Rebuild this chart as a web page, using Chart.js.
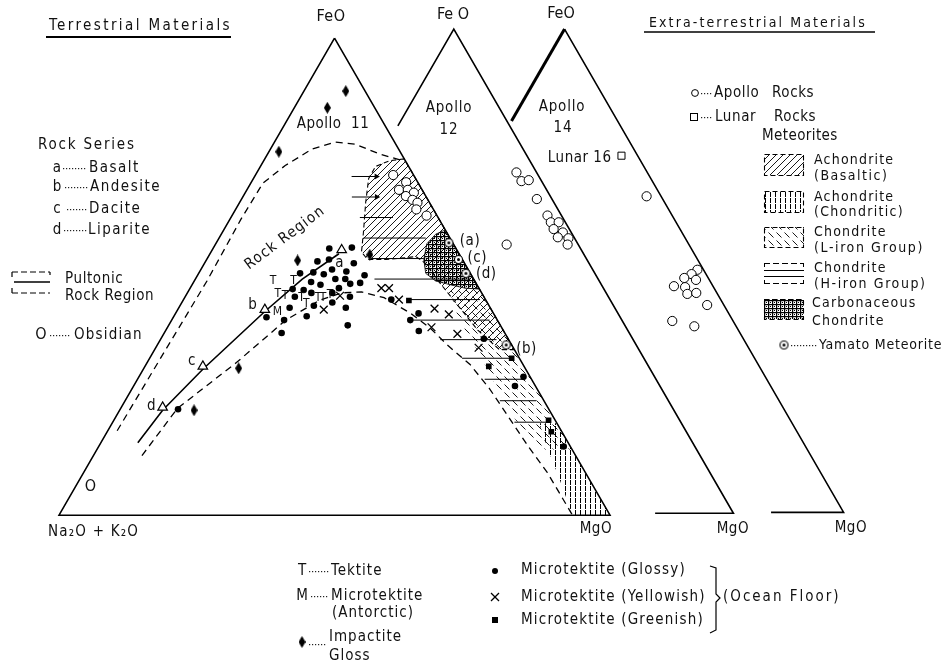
<!DOCTYPE html>
<html>
<head>
<meta charset="utf-8">
<title>FeO - MgO - (Na2O+K2O) diagram</title>
<script src="https://cdn.jsdelivr.net/npm/chart.js@4.4.1/dist/chart.umd.min.js"></script>
<style>
html,body{margin:0;padding:0;background:#fff;overflow:hidden;}
#box{position:relative;width:947px;height:666px;}
canvas{display:block;}
</style>
</head>
<body>
<div id="box"><canvas id="chart" width="947" height="666"></canvas></div>
<script>
// ================= DATA : every pair is [FeO %, MgO %]  (Na2O+K2O = remainder) =================
const apollo11Rocks = [[71.3,25.0],[69.8,28.1],[68.2,27.6],[68.2,29.2],[67.6,30.6],[66.9,29.5],[66.1,31.1],[65.5,32.3],[64.1,32.8],[62.8,35.3]];
const apollo12Rocks = [[70.4,26.0],[68.6,27.8],[68.8,29.0],[64.9,32.4],[61.5,36.0],[60.1,37.3],[60.1,38.7],[58.7,38.5],[58.0,40.5],[56.8,42.1],[57.0,40.1],[55.5,42.6],[55.5,31.7]];
const apollo14Rocks = [[65.4,32.0],[50.2,48.7],[49.3,48.1],[48.5,47.2],[48.1,49.5],[46.8,46.2],[46.6,48.3],[45.2,49.4],[45.4,50.9],[42.9,54.1],[39.6,49.5],[38.5,54.0]];
const lunarRocks = [[73.8,23.3]];
const lunarRockNames = ['Lunar 16'];
const rockSeries = [[55.6,23.5],[43.1,15.8],[31.2,10.5],[22.6,7.5]];
const rockSeriesLabels = ['a','b','c','d'];
const obsidian = [[6.0,2.7]];
const impactiteGlass = [[88.9,7.6],[85.4,6.0],[76.2,1.8],[53.4,16.6],[54.6,29.1],[30.8,17.2],[22.0,13.5]];
const tektites = [[49.1,14.3],[49.1,18.0],[46.4,16.5],[46.0,18.0],[45.6,21.2],[44.4,22.7],[45.6,24.2],[45.6,25.1],[46.2,26.1]];
const antarcticMicrotektites = [[42.7,18.3]];
const glossyMicrotektites = [[55.9,21.1],[56.1,25.1],[53.2,20.3],[53.6,22.2],[52.8,27.1],[50.7,18.4],[50.9,20.7],[50.5,22.8],[51.5,23.8],[51.1,26.6],[50.3,30.3],[48.9,21.3],[48.3,23.3],[49.5,25.4],[49.5,27.2],[48.5,28.6],[48.7,30.3],[47.4,18.7],[47.2,20.8],[46.6,22.5],[47.6,27.0],[46.6,26.3],[45.8,29.9],[45.8,19.9],[43.9,24.3],[44.6,27.3],[43.5,20.1],[41.7,24.1],[43.5,30.3],[41.5,16.9],[40.9,20.4],[38.2,21.3],[39.8,32.5],[45.2,37.7],[40.9,43.3],[42.3,44.1],[38.6,46.0],[37.0,58.6],[29.0,69.8],[27.1,69.2],[14.4,84.4],[22.2,10.5]];
const yellowishMicrotektites = [[47.6,34.7],[47.6,36.1],[45.2,39.1],[43.1,26.5],[46.0,28.0],[43.3,46.5],[42.1,49.7],[39.4,47.9],[38.0,53.3],[35.1,58.6]];
const greenishMicrotektites = [[45.0,41.0],[31.2,62.4],[32.9,65.7],[19.9,78.9],[17.5,80.6]];
const yamatoMeteorites = [[57.1,42.2],[53.6,45.7],[50.7,48.5],[35.7,63.3]];
const yamatoLabels = ['(a)','(c)','(d)','(b)'];

// region outlines, same [FeO, MgO] composition pairs
const pultonicOuter = [[17.7,1.7],[34.3,2.0],[49.1,2.3],[62.0,2.0],[69.6,2.2],[73.3,4.4],[76.8,7.6],[78.2,11.0],[77.8,14.8],[75.8,20.1],[74.1,25.9]];
const pultonicInner = [[12.5,8.8],[22.4,10.3],[32.0,16.2],[40.9,20.7],[45.0,24.7],[46.6,28.0],[46.8,31.5],[45.6,36.2],[42.3,42.7],[39.2,47.8],[35.7,52.6],[31.6,58.8],[26.5,64.9],[20.3,71.6],[14.2,78.2],[9.0,84.1],[0,93.2]];
const rockSeriesTrend = [[15.2,6.7],[22.0,7.8],[30.6,10.8],[42.7,16.0],[49.5,19.4],[54.8,23.4]];
const achondriteBasaltic = [[74.7,25.3],[74.3,22.8],[73.1,20.9],[70.6,20.9],[65.5,22.9],[59.3,25.6],[55.2,27.3],[53.6,29.2],[53.6,32.6],[54.2,37.7],[52.8,40.1],[48.5,45.0],[43.9,50.5],[38.8,56.6],[34.7,62.6],[34.7,65.3],[74.7,25.3]];
const carbonaceousChondrite = [[59.8,40.2],[58.9,38.9],[56.9,38.3],[53.6,39.4],[50.7,41.2],[49.1,43.8],[48.3,46.9],[47.6,49.9],[47.4,52.6],[59.8,40.2]];
const chondriteLiron = [[47.4,52.6],[47.0,47.5],[42.9,50.5],[38.8,54.3],[34.3,58.9],[29.6,63.4],[25.5,67.2],[21.4,71.4],[17.2,75.8],[13.8,80.2],[13.8,86.2],[47.4,52.6]];
const achondriteChondritic = [[19.3,80.7],[19.3,77.5],[14.2,81.5],[8.0,86.7],[0,93.2],[0,100],[19.3,80.7]];
// H-iron chondrite hatch lines: [FeO, MgO start, MgO end]
const chondriteHiron = [[71.0,17.6,22.1],[66.7,19.8,24.3],[62.4,23.4,29.4],[58.1,26.2,37.5],[53.8,29.8,39.3],[49.5,32.5,49.9],[45.2,40.9,53.8],[40.9,43.4,57.7],[36.8,50.8,61.0],[32.9,56.7,65.8],[28.5,63.0,70.2],[24.0,68.0,74.6],[19.5,72.9,78.8]];

// triangle frames: corners FeO=[100,0], MgO=[0,100], Na2O+K2O=[0,0]
const mainTriangle = [[100,0],[0,100],[0,0],[100,0]];
const apollo12Frame = [[80,0],[100,0],[0,100],[0,86]];
const apollo14Stub = [[100,0],[81,0]];
const apollo14Frame = [[100,0],[0,100],[0,87]];

// ================= LAYOUT =================
const FONT = '"Liberation Sans Narrow","DejaVu Sans Condensed","Open Sans",sans-serif';
const MAIN = {ox:0, oy:0, s:1}, A12 = {ox:20.9, oy:0.4, s:1.015}, A14 = {ox:41.1, oy:0.6, s:1.013};
const conv = (arr, fr = MAIN) => arr.map(p => ({x: fr.ox + fr.s * (p[1] + p[0] / 2), y: fr.oy + fr.s * p[0]}));

const cv = document.getElementById('chart');
const cctx = cv.getContext('2d');
function pattern(w, h, draw) {
  const c = document.createElement('canvas'); c.width = w; c.height = h;
  const g = c.getContext('2d'); g.strokeStyle = '#000'; g.fillStyle = '#000';
  draw(g, w, h); return cctx.createPattern(c, 'repeat');
}
const patBas = pattern(7, 7, (g, w, h) => { g.lineWidth = 0.9; g.beginPath(); g.moveTo(-1, h + 1); g.lineTo(w + 1, -1); g.moveTo(-1, 1); g.lineTo(1, -1); g.moveTo(w - 1, h + 1); g.lineTo(w + 1, h - 1); g.stroke(); });
const patL = pattern(8, 8, (g) => { g.lineWidth = 0.9; g.beginPath(); g.moveTo(0.5, 0.5); g.lineTo(5.5, 5.5); g.stroke(); });
const patV = pattern(5, 6, (g) => { g.fillRect(0, 0, 1, 5); });
const patC = pattern(4, 4, (g) => { g.fillRect(0, 0, 4, 1.2); g.fillRect(0, 0, 1.2, 4); g.fillRect(2, 2, 1, 1); });

function img(w, h, draw) { const c = document.createElement('canvas'); c.width = w; c.height = h; const g = c.getContext('2d'); draw(g); return c; }
const diamondImg = img(7, 12, g => { g.fillStyle = '#000'; g.beginPath(); g.moveTo(3.5, 0); g.lineTo(7, 6); g.lineTo(3.5, 12); g.lineTo(0, 6); g.closePath(); g.fill(); });
const yamatoImg = img(11, 11, g => { g.fillStyle = '#fff'; g.strokeStyle = '#000'; g.lineWidth = 1.1; g.beginPath(); g.arc(5.5, 5.5, 4, 0, 7); g.fill(); g.stroke(); g.fillStyle = '#000'; g.beginPath(); g.arc(5.5, 5.5, 1.5, 0, 7); g.fill(); });

const lineDS = (data, o) => Object.assign({type: 'line', data, borderColor: '#000', borderWidth: 1, pointRadius: 0, fill: false, tension: 0}, o);
const ptDS = (data, o) => Object.assign({type: 'scatter', data, pointBorderColor: '#000', pointBackgroundColor: '#000', pointBorderWidth: 1, pointRadius: 3}, o);

const datasets = [
  lineDS(conv(achondriteBasaltic), {fill: 'shape', backgroundColor: patBas, borderWidth: 1.1, borderDash: [5, 3], order: 30}),
  lineDS(conv(chondriteLiron), {fill: 'shape', backgroundColor: patL, borderWidth: 0, order: 29}),
  lineDS(conv(carbonaceousChondrite), {fill: 'shape', backgroundColor: patC, borderWidth: 0.8, order: 28}),
  lineDS(conv(achondriteChondritic), {fill: 'shape', backgroundColor: patV, borderWidth: 0, order: 27}),
  ...chondriteHiron.map(([f, m1, m2]) => lineDS(conv([[f, m1], [f, m2]]), {order: 26})),
  ptDS(conv(chondriteHiron.slice(0, 2).map(([f, , m2]) => [f, m2])), {pointStyle: 'triangle', pointRotation: 90, pointRadius: 3.5, pointBorderWidth: 0, order: 25}),
  lineDS(conv(mainTriangle), {borderWidth: 1.6, order: 10}),
  lineDS(conv(apollo12Frame, A12), {borderWidth: 1.6, order: 10}),
  lineDS(conv(apollo14Frame, A14), {borderWidth: 1.6, order: 10}),
  lineDS(conv(apollo14Stub, A14), {borderWidth: 3, order: 10}),
  lineDS(conv(pultonicOuter), {borderWidth: 1.3, borderDash: [7, 5], order: 9}),
  lineDS(conv(pultonicInner), {borderWidth: 1.3, borderDash: [7, 5], order: 9}),
  lineDS(conv(rockSeriesTrend), {borderWidth: 1.6, order: 9}),
  ptDS(conv(apollo11Rocks), {pointRadius: 4.6, pointBackgroundColor: '#fff', order: 3}),
  ptDS(conv(apollo12Rocks, A12), {pointRadius: 4.6, pointBackgroundColor: '#fff', order: 3}),
  ptDS(conv(apollo14Rocks, A14), {pointRadius: 4.6, pointBackgroundColor: '#fff', order: 3}),
  ptDS(conv(lunarRocks, A14), {pointStyle: 'rect', pointRadius: 5, pointBackgroundColor: '#fff', order: 3, labels: lunarRockNames, labelAlign: 'right', labelOffsets: [[-10, 2]]}),
  ptDS(conv(rockSeries), {pointStyle: 'triangle', pointRadius: 5.5, pointBackgroundColor: '#fff', pointBorderWidth: 1.2, order: 2, labels: rockSeriesLabels, labelAlign: 'center', labelOffsets: [[-2, 13], [-12, -4], [-11, -5], [-11, -1]]}),
  ptDS(conv(impactiteGlass), {pointStyle: diamondImg, order: 2}),
  ptDS(conv(glossyMicrotektites), {pointRadius: 3.3, pointBorderWidth: 0, order: 2}),
  ptDS(conv(yellowishMicrotektites), {pointStyle: 'crossRot', pointRadius: 5.5, pointBorderWidth: 1.3, order: 2}),
  ptDS(conv(greenishMicrotektites), {pointStyle: 'rect', pointRadius: 4, pointBorderWidth: 0, order: 2}),
  ptDS(conv(yamatoMeteorites), {pointStyle: yamatoImg, order: 1, labels: yamatoLabels, labelAlign: 'left', labelOffsets: [[11, -2], [9, -1], [10, 1], [10, 4]]}),
  ptDS(conv(tektites), {pointRadius: 0, glyph: 'T', glyphSize: 12, order: 2}),
  ptDS(conv(antarcticMicrotektites), {pointRadius: 0, glyph: 'M', glyphSize: 12, order: 2}),
  ptDS(conv(obsidian), {pointRadius: 0, glyph: 'O', glyphSize: 16, order: 2})
];

function txt(ctx, s, x, y, size, align = 'left', ls = 0, rot = 0) {
  ctx.save();
  ctx.font = size + 'px ' + FONT; ctx.textAlign = align; ctx.textBaseline = 'middle'; ctx.fillStyle = '#111';
  if ('letterSpacing' in ctx) ctx.letterSpacing = ls + 'px';
  if (rot) { ctx.translate(x, y); ctx.rotate(rot); ctx.fillText(s, 0, 0); } else ctx.fillText(s, x, y);
  ctx.restore();
}
function dots(ctx, x1, x2, y) { ctx.fillStyle = '#222'; for (let x = x1; x <= x2; x += 3) ctx.fillRect(x, y, 1.2, 1.2); }
function seg(ctx, x1, y1, x2, y2, w = 1, dash = []) { ctx.save(); ctx.lineWidth = w; ctx.setLineDash(dash); ctx.strokeStyle = '#000'; ctx.beginPath(); ctx.moveTo(x1, y1); ctx.lineTo(x2, y2); ctx.stroke(); ctx.restore(); }

const pointText = {
  id: 'pointText',
  afterDatasetsDraw(chart) {
    const ctx = chart.ctx;
    chart.data.datasets.forEach((ds, i) => {
      const meta = chart.getDatasetMeta(i);
      if (ds.glyph) meta.data.forEach(el => txt(ctx, ds.glyph, el.x, el.y, ds.glyphSize, 'center'));
      if (ds.labels) meta.data.forEach((el, j) => txt(ctx, ds.labels[j], el.x + ds.labelOffsets[j][0], el.y + ds.labelOffsets[j][1], 15, ds.labelAlign, 0.5));
    });
  }
};

const texts = [
  ['Terrestrial Materials', 49, 26, 15, 'left', 2.4],
  ['FeO', 331, 17, 16, 'center', 0.5], ['Fe O', 453, 15, 16, 'center', 0], ['FeO', 561, 14, 16, 'center', 0],
  ['Extra-terrestrial Materials', 649, 23, 14, 'left', 2.1],
  ['Apollo  11', 333, 124, 15, 'center', 0.5],
  ['Apollo', 449, 108, 15, 'center', 0.8], ['12', 449, 130, 15, 'center', 0.8],
  ['Apollo', 562, 107, 15, 'center', 0.8], ['14', 563, 128, 15, 'center', 0.8],
  ['Rock Series', 38, 145, 15, 'left', 1.8],
  ['a', 57, 168, 15, 'center'], ['Basalt', 89, 168, 15, 'left', 1.5],
  ['b', 57, 187, 15, 'center'], ['Andesite', 90, 187, 15, 'left', 1.5],
  ['c', 57, 209, 15, 'center'], ['Dacite', 89, 209, 15, 'left', 1.5],
  ['d', 57, 230, 15, 'center'], ['Liparite', 88, 230, 15, 'left', 1.5],
  ['Pultonic', 65, 279, 15, 'left', 0.6], ['Rock Region', 65, 296, 15, 'left', 0.6],
  ['O', 41, 335, 16, 'center'], ['Obsidian', 74, 335, 15, 'left', 1.2],
  ['Rock Region', 285, 238, 15, 'center', 1.2, -0.64],
  ['Na\u2082O + K\u2082O', 48, 532, 15, 'left', 1.2],
  ['MgO', 612, 529, 15, 'right', 0.5], ['MgO', 749, 529, 15, 'right', 0.5], ['MgO', 867, 528, 15, 'right', 0.5],
  ['Apollo', 714, 93, 15, 'left', 0.6], ['Rocks', 772, 93, 15, 'left', 0.6],
  ['Lunar', 715, 117, 15, 'left', 0.6], ['Rocks', 774, 117, 15, 'left', 0.6],
  ['Meteorites', 762, 136, 15, 'left', 0.4],
  ['Achondrite', 814, 160, 14, 'left', 1.2], ['(Basaltic)', 814, 176, 14, 'left', 1.5],
  ['Achondrite', 814, 197, 14, 'left', 1.2], ['(Chondritic)', 814, 212, 14, 'left', 1.3],
  ['Chondrite', 814, 232, 14, 'left', 1.2], ['(L-iron Group)', 814, 248, 14, 'left', 1.6],
  ['Chondrite', 814, 268, 14, 'left', 1.2], ['(H-iron Group)', 814, 284, 14, 'left', 1.6],
  ['Carbonaceous', 812, 303, 14, 'left', 1.2], ['Chondrite', 812, 321, 14, 'left', 1.2],
  ['Yamato Meteorite', 819, 345, 14, 'left', 0.8],
  ['T', 302, 571, 15, 'center'], ['Tektite', 331, 571, 15, 'left', 1],
  ['M', 302, 596, 15, 'center'], ['Microtektite', 331, 596, 15, 'left', 1], ['(Antorctic)', 332, 613, 15, 'left', 1],
  ['Impactite', 329, 637, 15, 'left', 1], ['Gloss', 329, 656, 15, 'left', 1],
  ['Microtektite (Glossy)', 521, 570, 15, 'left', 1.2],
  ['Microtektite (Yellowish)', 521, 597, 15, 'left', 1.2],
  ['Microtektite (Greenish)', 521, 620, 15, 'left', 1.2],
  ['(Ocean Floor)', 723, 597, 15, 'left', 2]
];

const decor = {
  id: 'decor',
  afterDraw(chart) {
    const ctx = chart.ctx;
    texts.forEach(t => txt(ctx, ...t));
    seg(ctx, 46, 37, 231, 37, 2); seg(ctx, 644, 32, 875, 32, 1.3);
    [[63, 85, 168], [65, 86, 187], [67, 86, 209], [64, 85, 230], [50, 70, 335], [701, 711, 93], [701, 712, 117], [791, 815, 345], [309, 328, 571], [311, 328, 596], [309, 326, 644]].forEach(d => dots(ctx, d[0], d[1], d[2]));
    // pultonic legend box
    seg(ctx, 12, 272, 50, 272, 1.2, [6, 3]); seg(ctx, 14, 282, 50, 282, 1.4); seg(ctx, 12, 293, 50, 293, 1.2, [6, 3]);
    seg(ctx, 12, 272, 12, 277, 1.2); seg(ctx, 12, 288, 12, 293, 1.2); seg(ctx, 50, 272, 50, 275, 1.2);
    // right legend symbols
    ctx.save(); ctx.lineWidth = 1; ctx.strokeStyle = '#000'; ctx.fillStyle = '#fff';
    ctx.beginPath(); ctx.arc(695, 93, 3.4, 0, 7); ctx.stroke(); ctx.strokeRect(690.5, 113.5, 7, 7);
    ctx.restore();
    ctx.drawImage(yamatoImg, 784 - 5.5, 345 - 5.5);
    const boxes = [[154, 21, patBas], [191, 21, patV], [227, 20, patL], [299, 20, patC]];
    boxes.forEach(([y, h, p]) => { ctx.save(); ctx.fillStyle = p; ctx.fillRect(764, y, 40, h); ctx.lineWidth = 1.1; ctx.setLineDash([5, 3]); ctx.strokeRect(764.5, y + 0.5, 39, h); ctx.restore(); });
    seg(ctx, 764, 263.5, 804, 263.5, 1.1, [6, 3]); seg(ctx, 764, 270.5, 804, 270.5, 1); seg(ctx, 764, 276.5, 804, 276.5, 1); seg(ctx, 764, 283.5, 804, 283.5, 1.1, [6, 3]);
    seg(ctx, 764.5, 263, 764.5, 267, 1); seg(ctx, 803.5, 263, 803.5, 267, 1); seg(ctx, 764.5, 280, 764.5, 284, 1); seg(ctx, 803.5, 280, 803.5, 284, 1);
    // bottom legend symbols
    ctx.drawImage(diamondImg, 302 - 3.5, 642 - 6);
    ctx.fillStyle = '#000'; ctx.beginPath(); ctx.arc(495, 571, 3, 0, 7); ctx.fill();
    seg(ctx, 491, 593, 499, 601, 1.2); seg(ctx, 499, 593, 491, 601, 1.2);
    ctx.fillRect(492, 617, 6, 6);
    // bracket
    ctx.save(); ctx.lineWidth = 1.2; ctx.strokeStyle = '#000'; ctx.beginPath();
    ctx.moveTo(710, 566); ctx.lineTo(716, 568); ctx.lineTo(716, 594); ctx.lineTo(720, 598); ctx.lineTo(716, 602); ctx.lineTo(716, 630); ctx.lineTo(710, 633); ctx.stroke(); ctx.restore();
  }
};

new Chart(cv, {
  type: 'scatter',
  data: {datasets},
  options: {
    responsive: false, animation: false, devicePixelRatio: 1, events: [],
    layout: {padding: 0},
    plugins: {legend: {display: false}, tooltip: {enabled: false}, title: {display: false}},
    scales: {
      x: {type: 'linear', min: -9.48, max: 159.93, display: false},
      y: {type: 'linear', min: -30.18, max: 106.57, display: false}
    }
  },
  plugins: [pointText, decor]
});
</script>
</body>
</html>
